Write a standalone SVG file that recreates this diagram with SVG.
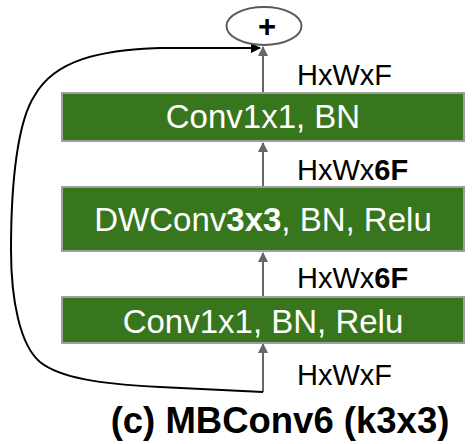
<svg xmlns="http://www.w3.org/2000/svg" width="472" height="444" viewBox="0 0 472 444">
<defs>
<style>
.box{fill:#38761d;stroke:#9e9e9e;stroke-width:2}
.bt{font-family:"Liberation Sans",Arial,sans-serif;font-size:33px;fill:#ffffff;text-anchor:middle}
.lb{font-family:"Liberation Sans",Arial,sans-serif;font-size:29px;fill:#000000}
.ar{stroke:#666666;stroke-width:2;fill:none}
</style>
<marker id="ga" markerWidth="10" markerHeight="10" refX="9" refY="5" orient="auto" markerUnits="userSpaceOnUse" viewBox="0 0 10 10">
<path d="M0,0 L10,5 L0,10 z" fill="#666666"/>
</marker>
<marker id="ka" markerWidth="10" markerHeight="10" refX="9" refY="5" orient="auto" markerUnits="userSpaceOnUse" viewBox="0 0 10 10">
<path d="M0,0 L10,5 L0,10 z" fill="#000000"/>
</marker>
</defs>
<rect width="472" height="444" fill="#ffffff"/>
<g id="connectors">
<path class="ar" d="M263 392 L263 344" marker-end="url(#ga)"/>
<path class="ar" d="M263 297 L263 253" marker-end="url(#ga)"/>
<path class="ar" d="M263 187 L263 143" marker-end="url(#ga)"/>
<path class="ar" d="M263 93 L263 47" marker-end="url(#ga)"/>
<path d="M263 392 L160 387 C100 384 60 378 40 362 C20 345 11 300 11 250 C11 180 18 120 35 95 C55 60 100 50 160 48 L260 48" stroke="#000000" stroke-width="2" fill="none" marker-end="url(#ka)"/>
</g>
<g id="plus">
<ellipse cx="264" cy="26" rx="37.5" ry="19" fill="#ffffff" stroke="#595959" stroke-width="2"/>
<text x="267" y="37" font-family="Liberation Sans,Arial,sans-serif" font-size="31" font-weight="bold" text-anchor="middle">+</text>
</g>
<g id="conv1">
<rect class="box" x="62" y="93" width="402" height="48"/>
<text class="bt" x="263" y="128">Conv1x1, BN</text>
</g>
<g id="dwconv">
<rect class="box" x="62" y="187" width="402" height="64"/>
<text class="bt" x="263" y="231">DWConv<tspan font-weight="bold">3x3</tspan>, BN, Relu</text>
</g>
<g id="conv0">
<rect class="box" x="62" y="297" width="402" height="46"/>
<text class="bt" x="263" y="333">Conv1x1, BN, Relu</text>
</g>
<g id="labels">
<text class="lb" x="297" y="85">HxWxF</text>
<text class="lb" x="297" y="180">HxWx<tspan font-weight="bold">6F</tspan></text>
<text class="lb" x="297" y="288">HxWx<tspan font-weight="bold">6F</tspan></text>
<text class="lb" x="297" y="385">HxWxF</text>
</g>
<g id="title">
<text x="280" y="433" font-family="Liberation Sans,Arial,sans-serif" font-size="36.5" font-weight="bold" text-anchor="middle">(c) MBConv6 (k3x3)</text>
</g>
</svg>
